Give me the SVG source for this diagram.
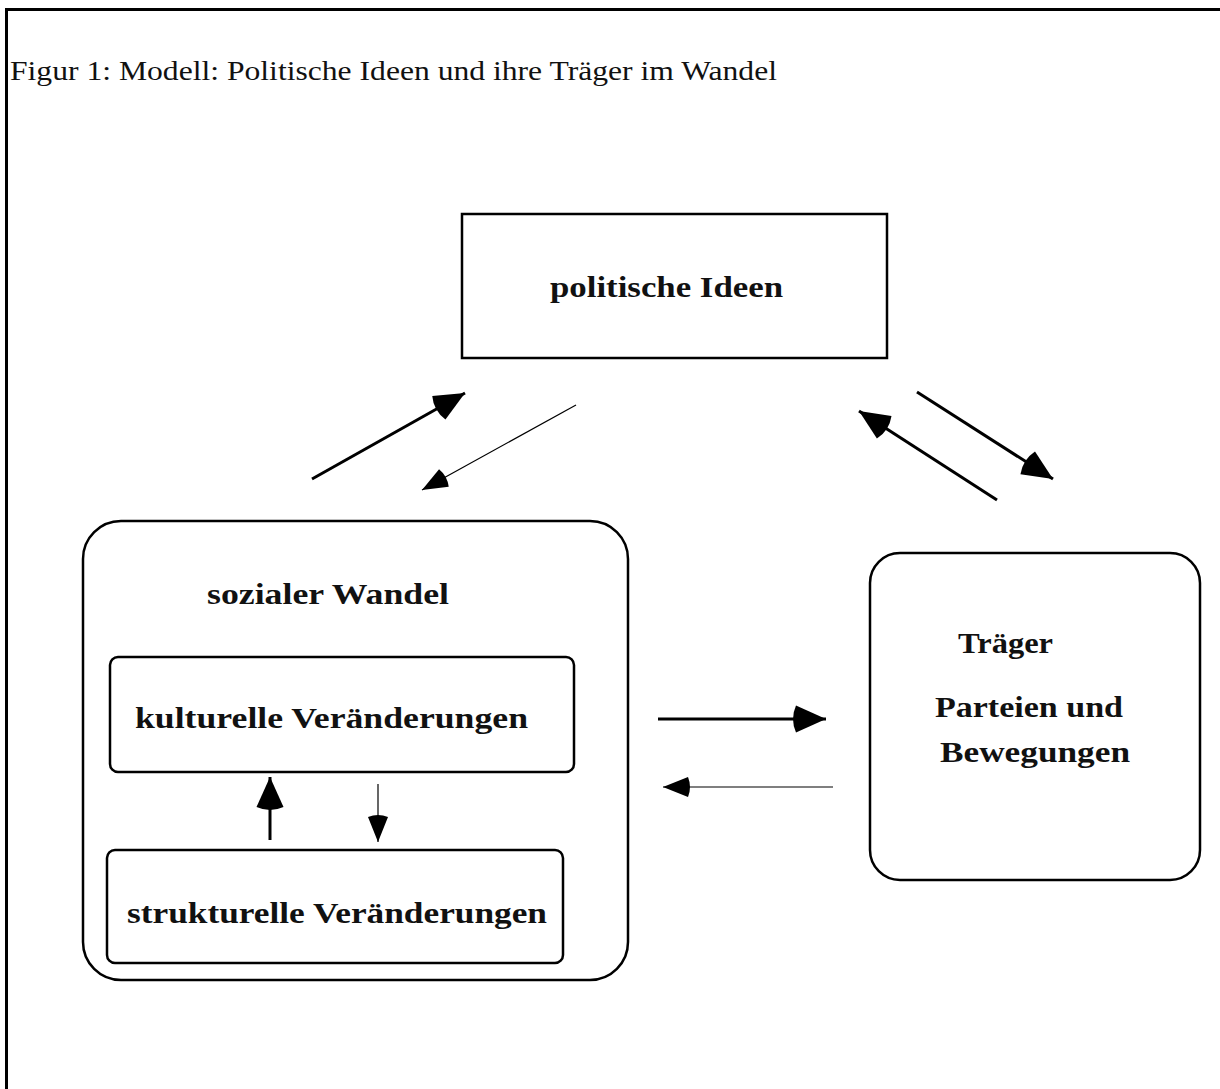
<svg xmlns="http://www.w3.org/2000/svg" width="1220" height="1089" viewBox="0 0 1220 1089">
<style>
.frame{stroke:#000;stroke-width:3;fill:none}
.box{fill:#fff;stroke:#000;stroke-width:2.5}
.lbl{font-family:'Liberation Serif','Times New Roman',Times,serif;font-weight:600;font-size:30px;fill:#111}
.title{font-family:'Liberation Serif','Times New Roman',Times,serif;font-size:28px;fill:#111}
.thick{stroke:#000;stroke-width:3;fill:none}
.thin{stroke:#000;stroke-width:1.2;fill:none}
</style>
<defs>
<marker id="big" markerUnits="userSpaceOnUse" viewBox="-40 -20 45 40" refX="0" refY="0" markerWidth="45" markerHeight="40" orient="auto">
<path d="M0,0 L-30,-13.5 Q-36,0 -30,13.5 Z" fill="#000"/>
</marker>
<marker id="small" markerUnits="userSpaceOnUse" viewBox="-40 -20 45 40" refX="0" refY="0" markerWidth="45" markerHeight="40" orient="auto">
<path d="M0,0 L-25,-10 Q-29,0 -25,10 Z" fill="#000"/>
</marker>
</defs>
<rect width="1220" height="1089" fill="#fff"/>
<g id="frame">
<path class="frame" d="M6.5,1089 V9.5 H1220"/>
</g>
<text class="title" font-family="Liberation Serif, serif" x="10" y="80" textLength="767" lengthAdjust="spacingAndGlyphs">Figur 1: Modell: Politische Ideen und ihre Träger im Wandel</text>
<g id="node-ideen">
<rect class="box" x="462" y="214" width="425" height="144"/>
<text class="lbl" x="550" y="297" textLength="233" lengthAdjust="spacingAndGlyphs">politische Ideen</text>
</g>
<g id="node-sozial">
<rect class="box" x="83" y="521" width="545" height="459" rx="38" ry="38"/>
<text class="lbl" x="207" y="604" textLength="242" lengthAdjust="spacingAndGlyphs">sozialer Wandel</text>
</g>
<g id="node-kulturell">
<rect class="box" x="110" y="657" width="464" height="115" rx="8" ry="8"/>
<text class="lbl" x="135" y="728" textLength="393" lengthAdjust="spacingAndGlyphs">kulturelle Veränderungen</text>
</g>
<g id="node-strukturell">
<rect class="box" x="107" y="850" width="456" height="113" rx="8" ry="8"/>
<text class="lbl" x="127" y="923" textLength="420" lengthAdjust="spacingAndGlyphs">strukturelle Veränderungen</text>
</g>
<g id="node-traeger">
<rect class="box" x="870" y="553" width="330" height="327" rx="30" ry="30"/>
<text class="lbl" x="958" y="653" textLength="95" lengthAdjust="spacingAndGlyphs">Träger</text>
<text class="lbl" x="935" y="717" textLength="188" lengthAdjust="spacingAndGlyphs">Parteien und</text>
<text class="lbl" x="940" y="762" textLength="190" lengthAdjust="spacingAndGlyphs">Bewegungen</text>
</g>
<g id="connectors">
<line class="thick" x1="312" y1="479" x2="465" y2="393" marker-end="url(#big)"/>
<line class="thin" x1="576" y1="405" x2="422" y2="490" marker-end="url(#small)"/>
<line class="thick" x1="997" y1="500" x2="859" y2="411" marker-end="url(#big)"/>
<line class="thick" x1="917" y1="392" x2="1053" y2="479" marker-end="url(#big)"/>
<line class="thick" x1="658" y1="719" x2="826" y2="719" marker-end="url(#big)"/>
<line class="thin" x1="833" y1="787" x2="663" y2="787" marker-end="url(#small)"/>
<line class="thick" x1="270" y1="840" x2="270" y2="777" marker-end="url(#big)"/>
<line class="thin" x1="378" y1="784" x2="378" y2="842" marker-end="url(#small)"/>
</g>
</svg>
